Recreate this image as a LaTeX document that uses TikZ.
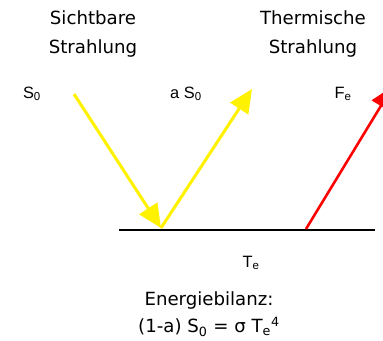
\documentclass[tikz,border=0pt]{standalone}
\usepackage{xcolor}
\usepackage{amsmath,amssymb}
\usepackage{fontspec}
\setmainfont{Liberation Sans}
\newfontfamily\headfont{DejaVu Sans}
\usepackage{tikz}
\usetikzlibrary{arrows.meta,positioning,calc}

\tikzset{
  headtxt/.style={font=\headfont\fontsize{15.5}{24}\selectfont, align=center},
  labeltxt/.style={font=\fontsize{14}{16}\selectfont},
  ray/.style={line width=2.6pt, -{Triangle[length=20pt, width=18pt]}},
}

\begin{document}
\begin{tikzpicture}[x=0.03cm, y=-0.03cm]
  \useasboundingbox (0,0) rectangle (383,341);

  % Headings
  \node[headtxt] (vis) at (93, 34) {Sichtbare\\Strahlung};
  \node[headtxt] (therm) at (313, 34) {Thermische\\Strahlung};

  % Ground surface
  \coordinate (gl) at (119, 230);
  \coordinate (gr) at (375, 230);
  \draw[line width=2.4pt] (gl) -- (gr);

  % Visible radiation in and reflected
  \coordinate (sin) at (74, 94);
  \coordinate (hit) at (161, 228);
  \coordinate (sout) at (252, 89);
  \draw[ray, yellow] (sin) -- (hit);
  \draw[ray, yellow] (hit) -- (sout);
  \node[labeltxt] (s0) at (32, 94) {S\textsubscript{0}};
  \node[labeltxt] (as0) at (186, 94) {a S\textsubscript{0}};

  % Thermal radiation
  \coordinate (emit) at (306, 229);
  \coordinate (fend) at (393, 86);
  \draw[ray, red, line width=2.2pt] (emit) -- (fend);
  \node[labeltxt] (fe) at (343, 94) {F\textsubscript{e}};

  % Temperature and balance
  \node[labeltxt] (te) at (251, 263) {T\textsubscript{e}};
  \node[headtxt] (bilanz) at (209, 300) {Energiebilanz:};
  \node[headtxt] (eq) at (209, 327) {(1-a) S\textsubscript{0} = σ T\textsubscript{e}\textsuperscript{4}};
\end{tikzpicture}
\end{document}
